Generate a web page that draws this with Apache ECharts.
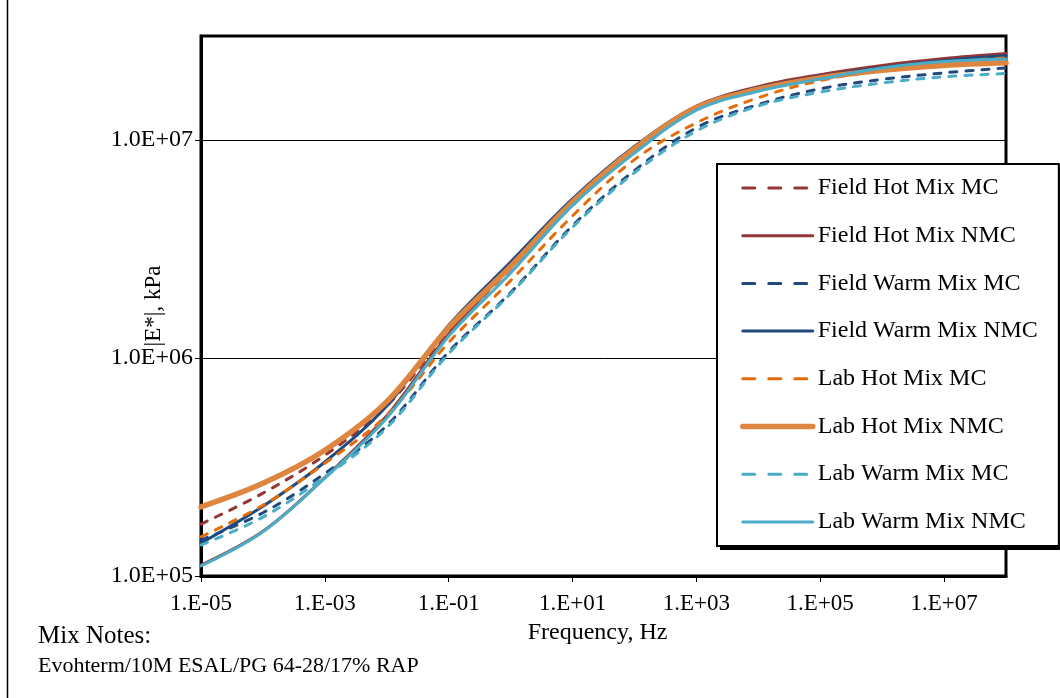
<!DOCTYPE html>
<html>
<head>
<meta charset="utf-8">
<script src="https://cdn.jsdelivr.net/npm/echarts@6/dist/echarts.min.js"></script>
<style>
html,body{margin:0;padding:0;background:#fff;}
#c{width:1060px;height:698px;}
</style>
</head>
<body>
<div id="c"></div>
<script>
// Frequency (Hz) at each decade
const freq = [1e-5, 1e-4, 1e-3, 1e-2, 1e-1, 1, 10, 100, 1e3, 1e4, 1e5, 1e6, 1e7, 1e8];

// |E*| values (kPa)
const fieldHotMC   = [173000, 239900, 358100, 602600, 1318000, 2570000, 5012000, 8913000, 13800000, 17060000, 19410000, 21480000, 23010000, 24270000];
const fieldHotNMC  = [112200, 160300, 283100, 543300, 1288000, 2630000, 5248000, 9226000, 14290000, 17580000, 19950000, 21980000, 23660000, 24950000];
const fieldWarmMC  = [146200, 195000, 295100, 489800, 1067000, 1995000, 4046000, 7244000, 11380000, 14550000, 17180000, 18970000, 20320000, 21430000];
const fieldWarmNMC = [141600, 208900, 333400, 602600, 1413000, 2754000, 5370000, 9333000, 14190000, 17380000, 19590000, 21530000, 23170000, 24430000];
const labHotMC     = [151400, 211300, 328900, 545800, 1178000, 2265000, 4487000, 8128000, 11990000, 15630000, 18750000, 20890000, 22650000, 23820000];
const labHotNMC    = [207500, 266100, 377600, 631000, 1380000, 2630000, 5190000, 9120000, 14060000, 17100000, 19280000, 20890000, 21980000, 22590000];
const labWarmMC    = [138700, 186200, 285100, 478600, 1047000, 1972000, 3981000, 7079000, 10990000, 14320000, 16600000, 18280000, 19500000, 20180000];
const labWarmNMC   = [111200, 159600, 281200, 530900, 1259000, 2455000, 5012000, 8710000, 13710000, 16750000, 19050000, 21380000, 22910000, 23550000];

const seriesNames = ['Field Hot Mix MC', 'Field Hot Mix NMC', 'Field Warm Mix MC', 'Field Warm Mix NMC',
                     'Lab Hot Mix MC', 'Lab Hot Mix NMC', 'Lab Warm Mix MC', 'Lab Warm Mix NMC'];
const seriesData = [fieldHotMC, fieldHotNMC, fieldWarmMC, fieldWarmNMC, labHotMC, labHotNMC, labWarmMC, labWarmNMC];

const xAxisMin = 1e-5, xAxisMax = 1e8;
const yAxisMin = 1e5, yAxisMax = 3e7;
const noteLines = ['Mix Notes:', 'Evohterm/10M ESAL/PG 64-28/17% RAP'];

const styles = [
  {color: '#953735', width: 3, dash: true},
  {color: '#953735', width: 3, dash: false},
  {color: '#21497E', width: 3, dash: true},
  {color: '#21497E', width: 3, dash: false},
  {color: '#E46C0A', width: 3, dash: true},
  {color: '#DE8540', width: 5.5, dash: false},
  {color: '#4BACC6', width: 3, dash: true},
  {color: '#4BACC6', width: 3, dash: false}
];

const FONT = '"Liberation Serif", "Times New Roman", serif';

function expOf(v) { return Math.round(Math.log10(v)); }
function fmtExp(e) { return (e < 0 ? '-' : '+') + (Math.abs(e) < 10 ? '0' : '') + Math.abs(e); }

const chart = echarts.init(document.getElementById('c'), null, {renderer: 'canvas'});

const series = seriesNames.map((name, i) => ({
  name: name,
  type: 'line',
  data: freq.map((f, j) => [f, seriesData[i][j]]),
  showSymbol: false,
  symbol: 'none',
  smooth: 0.35,
  lineStyle: {
    color: styles[i].color,
    width: styles[i].width,
    type: styles[i].dash ? [7, 9] : 'solid',
    cap: 'round'
  },
  itemStyle: {color: styles[i].color},
  z: 2 + i
}));

const legendData = seriesNames.map((name, i) => ({
  name: name,
  itemStyle: {opacity: 0, color: 'transparent', borderWidth: 0},
  lineStyle: {
    color: styles[i].color,
    width: styles[i].width,
    type: styles[i].dash ? [12, 14] : 'solid',
    cap: 'round'
  }
}));

chart.setOption({
  animation: false,
  backgroundColor: '#fff',
  grid: {left: 201, top: 36, right: 54, bottom: 122, show: true, borderColor: '#000', borderWidth: 3, backgroundColor: 'transparent'},
  xAxis: {
    type: 'log', logBase: 10, min: xAxisMin, max: xAxisMax, interval: 2,
    name: 'Frequency, Hz', nameLocation: 'middle', nameGap: 45, nameMoveOverlap: false,
    nameTextStyle: {fontFamily: FONT, fontSize: 24, color: '#000', padding: [0, 12, 0, 0]},
    axisLine: {show: true, lineStyle: {color: '#000', width: 3}},
    axisTick: {show: true, length: 6, inside: false, lineStyle: {color: '#000', width: 1}},
    axisLabel: {
      fontFamily: FONT, fontSize: 23, color: '#000', margin: 16, showMaxLabel: false,
      formatter: v => '1.E' + fmtExp(expOf(v))
    },
    splitLine: {show: false}
  },
  yAxis: {
    type: 'log', logBase: 10, min: yAxisMin, max: yAxisMax, interval: 1,
    name: '|E*|, kPa', nameLocation: 'middle', nameGap: 36, nameMoveOverlap: false,
    nameTextStyle: {fontFamily: FONT, fontSize: 23, color: '#000'},
    axisLine: {show: true, lineStyle: {color: '#000', width: 3}},
    axisTick: {show: true, length: 6, inside: false, lineStyle: {color: '#000', width: 1}},
    axisLabel: {
      fontFamily: FONT, fontSize: 24, color: '#000', margin: 8, showMaxLabel: false,
      formatter: v => '1.0E' + fmtExp(expOf(v))
    },
    splitLine: {show: true, lineStyle: {color: '#000', width: 1}}
  },
  legend: {
    orient: 'vertical',
    left: 717, top: 164,
    data: legendData,
    itemWidth: 70, itemHeight: 14, itemGap: 23.7, itemTextGap: 6,
    padding: [12, 21, 12, 23],
    backgroundColor: '#fff',
    borderColor: '#000', borderWidth: 2,
    textStyle: {fontFamily: FONT, fontSize: 24, color: '#000'},
    selectedMode: false,
    z: 10
  },
  graphic: [
    {type: 'line', z: 1, shape: {x1: 7.5, y1: 0, x2: 7.5, y2: 698}, style: {stroke: '#000', lineWidth: 1.5}},
    {type: 'rect', z: 9, shape: {x: 720, y: 167, width: 341, height: 383}, style: {fill: '#000'}},
    {type: 'text', left: 38, top: 624, style: {text: noteLines[0], font: '25px ' + FONT, fill: '#000'}},
    {type: 'text', left: 38, top: 655, style: {text: noteLines[1], font: '22px ' + FONT, fill: '#000'}}
  ],
  series: series
});
</script>
</body>
</html>
